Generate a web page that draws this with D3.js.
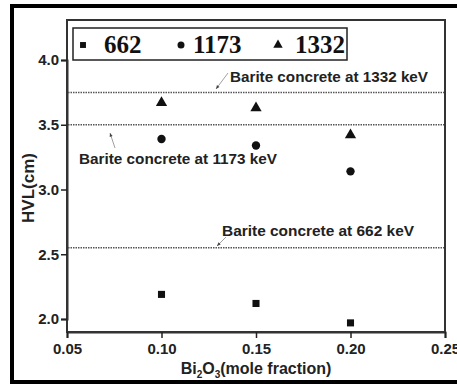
<!DOCTYPE html>
<html><head><meta charset="utf-8">
<script src="https://cdn.jsdelivr.net/npm/d3@7"></script>
<style>body{margin:0;background:#fff}svg{display:block}</style>
</head><body>
<svg id="c" width="457" height="385"></svg>
<script>
const xValues = [0.10, 0.15, 0.20];
const series662 = [2.19, 2.12, 1.97];
const series1173 = [3.39, 3.34, 3.14];
const series1332 = [3.67, 3.63, 3.42];
const seriesNames = ["662", "1173", "1332"];
const refLines = [
  {label: "Barite concrete at 1332 keV", value: 3.75},
  {label: "Barite concrete at 1173 keV", value: 3.50},
  {label: "Barite concrete at 662 keV", value: 2.55}
];
const xTicks = [0.05, 0.10, 0.15, 0.20, 0.25];
const yTicks = [2.0, 2.5, 3.0, 3.5, 4.0];

const svg = d3.select("#c");
const L = 67, R = 445, T = 20, B = 332;
const x = d3.scaleLinear().domain([0.05, 0.25]).range([L, R]);
const y = d3.scaleLinear().domain([4.0, 2.0]).range([60, 319]);

// outer frame
svg.append("rect").attr("x", 12).attr("y", 6).attr("width", 460).attr("height", 376)
  .attr("fill", "none").attr("stroke", "#000").attr("stroke-width", 4);

// plot frame
svg.append("rect").attr("x", L).attr("y", T).attr("width", R - L).attr("height", B - T)
  .attr("fill", "none").attr("stroke", "#333").attr("stroke-width", 2);

// axes
const fontAx = "Arial, 'Liberation Sans', sans-serif";
const xAxis = svg.append("g").attr("transform", `translate(0,${B})`)
  .call(d3.axisBottom(x).tickValues(xTicks).tickFormat(d3.format(".2f")).tickSize(6).tickPadding(5));
const yAxis = svg.append("g").attr("transform", `translate(${L},0)`)
  .call(d3.axisLeft(y).tickValues(yTicks).tickFormat(d3.format(".1f")).tickSize(6).tickPadding(2));
[xAxis, yAxis].forEach(g => {
  g.select(".domain").attr("stroke", "#333").attr("stroke-width", 2);
  g.selectAll(".tick line").attr("stroke", "#222").attr("stroke-width", 1.5);
  g.selectAll(".tick text").attr("fill", "#222").style("font-family", fontAx)
    .style("font-weight", "bold").style("font-size", "15px");
});

// axis titles
const xt = svg.append("text").attr("x", 256).attr("y", 374).attr("text-anchor", "middle")
  .style("font-family", fontAx).style("font-weight", "bold").style("font-size", "16px").attr("fill", "#222");
xt.append("tspan").text("Bi");
xt.append("tspan").text("2").attr("dy", 4).style("font-size", "10px");
xt.append("tspan").text("O").attr("dy", -4);
xt.append("tspan").text("3").attr("dy", 4).style("font-size", "10px");
xt.append("tspan").text("(mole fraction)").attr("dy", -4);

svg.append("text").attr("transform", "translate(34,188) rotate(-90)").attr("text-anchor", "middle")
  .style("font-family", fontAx).style("font-weight", "bold").style("font-size", "17px").attr("fill", "#222")
  .text("HVL(cm)");

// reference lines
svg.append("g").selectAll("line").data(refLines).join("line")
  .attr("x1", L + 1).attr("x2", R - 1)
  .attr("y1", d => y(d.value)).attr("y2", d => y(d.value))
  .attr("stroke", "#555").attr("stroke-width", 1.5).attr("stroke-dasharray", "1.5,1");

// annotations
const ann = [
  {tx: 230, ty: 82, lx1: 228, ly1: 73, lx2: 216, ly2: 89},
  {tx: 79, ty: 164, lx1: 115, ly1: 148, lx2: 110, ly2: 133},
  {tx: 222, ty: 236, lx1: 226, ly1: 237, lx2: 217, ly2: 246}
];
refLines.forEach((r, i) => {
  const a = ann[i];
  svg.append("text").attr("x", a.tx).attr("y", a.ty)
    .style("font-family", fontAx).style("font-weight", "bold").style("font-size", "15px").attr("fill", "#222")
    .attr("textLength", i === 2 ? 192 : 198).attr("lengthAdjust", "spacingAndGlyphs")
    .text(r.label);
  svg.append("line").attr("x1", a.lx1).attr("y1", a.ly1).attr("x2", a.lx2).attr("y2", a.ly2)
    .attr("stroke", "#888").attr("stroke-width", 0.8);
  const ang = Math.atan2(a.ly2 - a.ly1, a.lx2 - a.lx1);
  const s = 4;
  svg.append("path").attr("d", `M${a.lx2},${a.ly2}L${a.lx2 - s*Math.cos(ang-0.4)},${a.ly2 - s*Math.sin(ang-0.4)}L${a.lx2 - s*Math.cos(ang+0.4)},${a.ly2 - s*Math.sin(ang+0.4)}Z`)
    .attr("fill", "#444");
});

// markers
const sym = [d3.symbolSquare, d3.symbolCircle, d3.symbolTriangle];
const sizes = [50, 55, 55];
const allSeries = [series662, series1173, series1332];
allSeries.forEach((vals, si) => {
  svg.append("g").selectAll("path").data(vals).join("path")
    .attr("d", d3.symbol().type(sym[si]).size(sizes[si]))
    .attr("transform", (d, i) => `translate(${x(xValues[i])},${y(d)})`)
    .attr("fill", "#111");
});

// legend
svg.append("rect").attr("x", 73).attr("y", 28).attr("width", 274).attr("height", 32)
  .attr("fill", "#fff").attr("stroke", "#222").attr("stroke-width", 1.5);
const legX = [83, 181, 278];
const legTX = [104, 193, 295];
seriesNames.forEach((n, i) => {
  svg.append("path").attr("d", d3.symbol().type(sym[i]).size(sizes[i] * 0.7))
    .attr("transform", `translate(${legX[i]},${45})`).attr("fill", "#111");
  svg.append("text").attr("x", legTX[i]).attr("y", 53)
    .style("font-family", "'Liberation Serif', 'Times New Roman', serif").style("font-size", "25px")
    .style("font-weight", "bold").attr("fill", "#111").text(n);
});
</script>
</body></html>
